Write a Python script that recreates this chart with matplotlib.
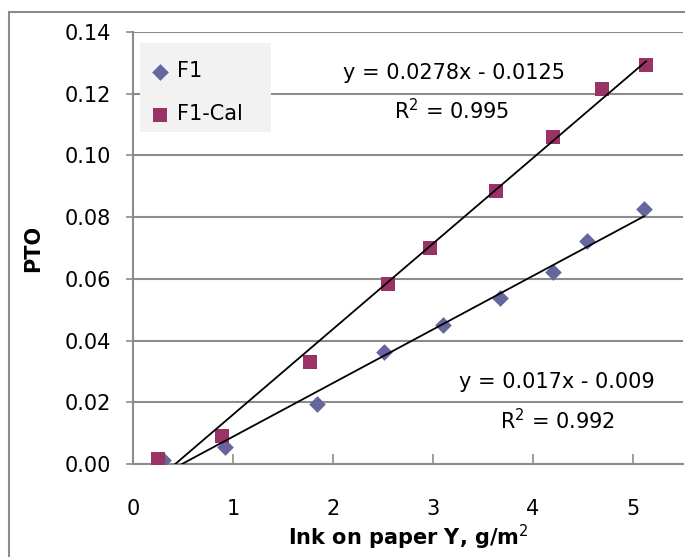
import numpy as np
import matplotlib
matplotlib.use("Agg")
import matplotlib.pyplot as plt
from matplotlib.patches import Rectangle

plt.rcParams['font.family'] = ['DejaVu Sans']

# F1 data (ink on paper Y, g/m2 vs PTO)
f1_x = [0.30, 0.92, 1.84, 2.51, 3.10, 3.67, 4.20, 4.54, 5.11]
f1_y = [0.0013, 0.0055, 0.0194, 0.0363, 0.0450, 0.0538, 0.0622, 0.0723, 0.0826]

# F1-Cal data
cal_x = [0.25, 0.89, 1.77, 2.55, 2.97, 3.63, 4.20, 4.69, 5.13]
cal_y = [0.0016, 0.0092, 0.0332, 0.0582, 0.0700, 0.0885, 0.1060, 0.1215, 0.1293]

# trendline labels as shown on the chart
f1_eq = "y = 0.017x - 0.009"
f1_r2 = "R$^2$ = 0.992"
cal_eq = "y = 0.0278x - 0.0125"
cal_r2 = "R$^2$ = 0.995"

y_ticks = [0.00, 0.02, 0.04, 0.06, 0.08, 0.10, 0.12, 0.14]
x_ticks = [0, 1, 2, 3, 4, 5]

grid_col = "#8c8c8c"
fs = 15
W, H = 685, 557

fig = plt.figure(figsize=(6.85, 5.57), dpi=100)
fig.patch.set_facecolor("white")

# outer chart border
fig.patches.append(Rectangle((9 / W, -0.1), 1.2, 1.1 - 12 / H, transform=fig.transFigure,
                             fill=False, edgecolor=grid_col, linewidth=1.5, zorder=0))

ax = fig.add_axes([133 / W, 1 - 464 / H, 550 / W, 432 / H])

ax.scatter(f1_x, f1_y, marker="D", s=8.5 ** 2, color="#66669f", linewidths=0, label="F1", zorder=3)
ax.scatter(cal_x, cal_y, marker="s", s=10.5 ** 2, color="#993366", linewidths=0, label="F1-Cal", zorder=3)

# linear trendlines fitted to each series
for xs, ys in [(f1_x, f1_y), (cal_x, cal_y)]:
    m, b = np.polyfit(xs, ys, 1)
    x0 = max(min(xs), -b / m)
    xx = np.array([x0, max(xs)])
    ax.plot(xx, m * xx + b, color="black", linewidth=1.3, zorder=4)

ax.set_xlim(0, 5.5)
ax.set_ylim(0, 0.14)
ax.set_xticks(x_ticks)
ax.set_yticks(y_ticks)
ax.set_yticklabels([f"{v:.2f}" for v in y_ticks])
ax.yaxis.grid(True, color=grid_col, linewidth=1.5)
ax.set_axisbelow(True)

for s in ["top", "right"]:
    ax.spines[s].set_visible(False)
for s in ["left", "bottom"]:
    ax.spines[s].set_color(grid_col)
    ax.spines[s].set_linewidth(1.5)

ax.tick_params(axis="x", direction="in", length=7, width=1.2, color=grid_col, labelsize=fs, pad=25)
ax.tick_params(axis="y", direction="out", length=5, width=1.2, color=grid_col, labelsize=fs, pad=11)

ax.set_xlabel("Ink on paper Y, g/m$^2$", fontsize=fs, fontweight="bold", labelpad=3)
ax.set_ylabel("PTO", fontsize=fs, fontweight="bold", labelpad=15)

# equation labels, positioned in pixels from the top-left corner
for txt, px, py in [(cal_eq, 454, 73), (cal_r2, 452, 111), (f1_eq, 557, 382), (f1_r2, 557, 421)]:
    ax.text(px, H - py, txt, transform=None, fontsize=fs, ha="center", va="center")

# legend background box
ax.add_patch(Rectangle((140 / W, 1 - 132 / H), 131 / W, 89 / H, transform=fig.transFigure,
                       facecolor="#f2f2f2", edgecolor="none", zorder=5, clip_on=False))

leg = ax.legend(loc="upper left", bbox_to_anchor=(150 / W, 1 - 61 / H), bbox_transform=fig.transFigure,
                fontsize=fs, frameon=False, borderpad=0, labelspacing=1.12,
                handletextpad=0.3, handlelength=1.0, borderaxespad=0)
leg.set_zorder(6)

fig.savefig("out.png", dpi=100)
